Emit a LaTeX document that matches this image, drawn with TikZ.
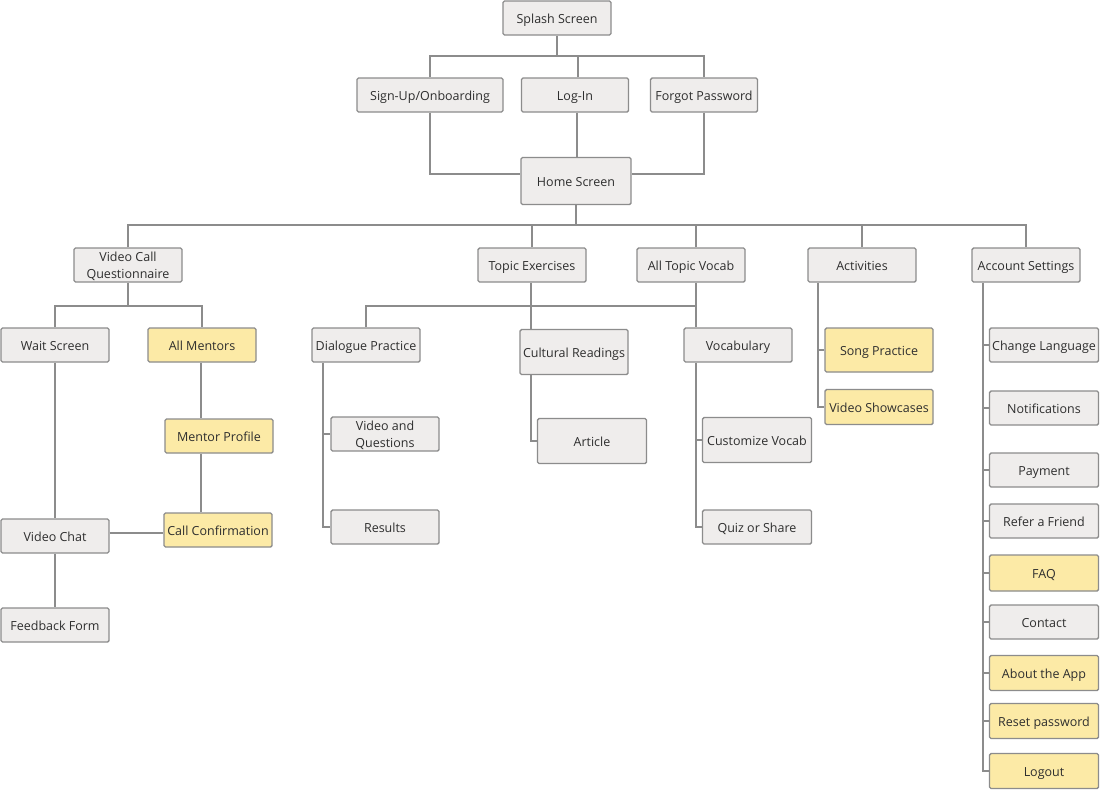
\documentclass[tikz,border=0pt]{standalone}
\usepackage{fontspec}
\setmainfont{Open Sans}
\definecolor{boxgray}{HTML}{EFEDEC}
\definecolor{boxyel}{HTML}{FCEAA6}
\definecolor{edge}{HTML}{8C8C8C}
\definecolor{txt}{HTML}{2E2E2E}
\begin{document}
\begin{tikzpicture}[x=1pt,y=-1pt,
  box/.style={draw=edge,line width=1.4pt,fill=boxgray,rounded corners=1.5pt,
    minimum width=108pt,minimum height=34pt,inner sep=0pt,align=center,
    text height=13pt,text depth=2pt,
    text=txt,font=\fontsize{12.5}{17}\selectfont},
  twoline/.style={text height=30pt,text depth=3pt},
  ybox/.style={box,fill=boxyel},
  conn/.style={draw=edge,line width=1.4pt}]
\useasboundingbox (0,0) rectangle (1100,790);
\fill[white] (0,0) rectangle (1100,790);
% level 0-2
\node[box] (splash) at (557,18) {Splash Screen};
\node[box,minimum width=146pt] (signup) at (430,95) {Sign-Up/Onboarding};
\node[box,minimum width=107pt] (login) at (575,95) {Log-In};
\node[box,minimum width=107pt] (forgot) at (704,95) {Forgot Password};
\node[box,minimum width=110pt,minimum height=47pt] (home) at (576,181) {Home Screen};
% level 3
\node[box,twoline] (vcq) at (128,265) {Video Call\\Questionnaire};
\node[box] (topex) at (532,265) {Topic Exercises};
\node[box] (alltv) at (691,265) {All Topic Vocab};
\node[box] (act) at (862,265) {Activities};
\node[box] (acct) at (1026,265) {Account Settings};
% video call branch
\node[box] (wait) at (55,345) {Wait Screen};
\node[ybox] (allm) at (202,345) {All Mentors};
\node[ybox] (mprof) at (219,436) {Mentor Profile};
\node[ybox] (callc) at (218,530) {Call Confirmation};
\node[box] (vchat) at (55,536) {Video Chat};
\node[box] (fb) at (55,625) {Feedback Form};
% topic branch
\node[box] (dial) at (366,345) {Dialogue Practice};
\node[box,minimum height=45pt] (cult) at (574,352) {Cultural Readings};
\node[box] (vocab) at (738,345) {Vocabulary};
\node[box,twoline] (vq) at (385,434) {Video and\\Questions};
\node[box] (results) at (385,527) {Results};
\node[box,minimum width=109pt,minimum height=45pt] (article) at (592,441) {Article};
\node[box,minimum width=109pt,minimum height=45pt] (cust) at (757,440) {Customize Vocab};
\node[box,minimum width=109pt] (quiz) at (757,527) {Quiz or Share};
% activities
\node[ybox,minimum height=44pt] (song) at (879,350) {Song Practice};
\node[ybox,minimum height=35pt] (vs) at (879,407) {Video Showcases};
% account settings
\node[box,minimum width=109pt] (lang) at (1044,345) {Change Language};
\node[box,minimum width=109pt] (notif) at (1044,408) {Notifications};
\node[box,minimum width=109pt] (pay) at (1044,470) {Payment};
\node[box,minimum width=109pt] (refer) at (1044,521) {Refer a Friend};
\node[ybox,minimum width=109pt,minimum height=36pt] (faq) at (1044,573) {FAQ};
\node[box,minimum width=109pt] (contact) at (1044,622) {Contact};
\node[ybox,minimum width=109pt,minimum height=35pt] (about) at (1044,673) {About the App};
\node[ybox,minimum width=109pt,minimum height=35pt] (reset) at (1044,721) {Reset password};
\node[ybox,minimum width=109pt,minimum height=35pt] (logout) at (1044,771) {Logout};
% helper coordinates
\coordinate (b1) at (0,56);
\coordinate (b2) at (0,225);
\coordinate (b3) at (0,306);
\coordinate (vx) at (696,306);
\coordinate (dx) at (323,0);
\coordinate (cx) at (531,0);
\coordinate (ax) at (818,0);
\coordinate (sx) at (983,0);
\coordinate (mx) at (201,0);
% connectors
\draw[conn] (splash.south) -- (splash.south |- b1);
\draw[conn] (signup.north) |- (forgot.north |- b1) -- (forgot.north);
\draw[conn] ([xshift=3pt]login.north) -- ([xshift=3pt]login.north |- b1);
\draw[conn] (signup.south) |- ([yshift=7pt]home.west);
\draw[conn] (forgot.south) |- ([yshift=7pt]home.east);
\draw[conn] ([xshift=2pt]login.south) -- ([xshift=2pt]login.south |- home.north);
\draw[conn] (home.south) -- (home.south |- b2);
\draw[conn] (vcq.north) |- (acct.north |- b2) -- (acct.north);
\draw[conn] (topex.north) -- (topex.north |- b2);
\draw[conn] (alltv.north -| vx) -- (vx |- b2);
\draw[conn] (act.north) -- (act.north |- b2);
% video call
\draw[conn] (vcq.south) -- (vcq.south |- b3);
\draw[conn] (wait.north) |- (allm.north |- b3) -- (allm.north);
\draw[conn] (allm.south -| mx) -- (mprof.north -| mx);
\draw[conn] (mprof.south -| mx) -- (callc.north -| mx);
\draw[conn] (wait.south) -- (vchat.north);
\draw[conn] ([yshift=3pt]vchat.east) -- ([yshift=3pt]vchat.east -| callc.west);
\draw[conn] (vchat.south) -- (fb.north);
% topic
\draw[conn] (alltv.south -| vx) -- (vocab.north -| vx);
\draw[conn] (dial.north) |- (vx);
\draw[conn] (topex.south -| cx) -- (cult.north -| cx);
\draw[conn] (dial.south -| dx) |- (results.west);
\draw[conn] (vq.west) -- (vq.west -| dx);
\draw[conn] (cult.south -| cx) |- (article.west);
\draw[conn] (vocab.south -| vx) |- (quiz.west);
\draw[conn] (cust.west) -- (cust.west -| vx);
% activities
\draw[conn] (act.south -| ax) |- (vs.west);
\draw[conn] (song.west) -- (song.west -| ax);
% account
\draw[conn] (acct.south -| sx) |- (logout.west);
\foreach \n in {lang,notif,pay,refer,faq,contact,about,reset}
  \draw[conn] (\n.west) -- (\n.west -| sx);
\end{tikzpicture}
\end{document}
